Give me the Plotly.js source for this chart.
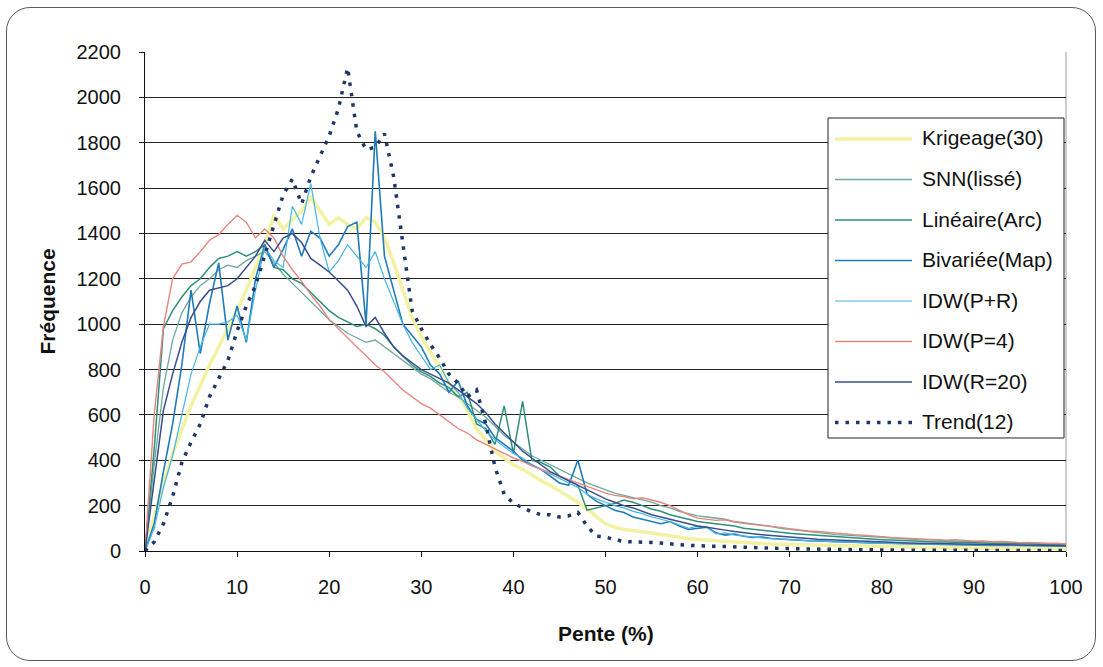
<!DOCTYPE html>
<html>
<head>
<meta charset="utf-8">
<script src="https://cdn.plot.ly/plotly-3.0.1.min.js"></script>
<style>
  html, body { margin: 0; padding: 0; background: #ffffff; }
  #wrap { position: relative; width: 1103px; height: 667px; }
  #chart { width: 1103px; height: 667px; }
  #frame { position: absolute; left: 6px; top: 7px; width: 1088px; height: 652px;
           border: 1.5px solid #5a5a5a; border-radius: 24px; pointer-events: none; }
</style>
</head>
<body>
<div id="wrap"><div id="chart"></div><div id="frame"></div></div>
<script>
// Slope classes (%)
const pente = [0,1,2,3,4,5,6,7,8,9,10,11,12,13,14,15,16,17,18,19,20,21,22,23,24,25,26,27,28,29,30,
  31,32,33,34,35,36,37,38,39,40,41,42,43,44,45,46,47,48,49,50,51,52,53,54,55,56,57,58,59,60,
  61,62,63,64,65,66,67,68,69,70,71,72,73,74,75,76,77,78,79,80,81,82,83,84,85,86,87,88,89,90,
  91,92,93,94,95,96,97,98,99,100];

// Frequencies per interpolation method
const krigeage = [0,150,300,430,540,640,730,820,900,980,1060,1150,1250,1350,1480,1420,1460,1500,1560,1500,1440,
  1470,1440,1420,1470,1450,1380,1270,1150,1030,945,880,810,740,690,620,540,490,440,410,380,
  360,335,310,290,265,240,215,185,150,120,105,95,90,85,80,75,70,62,55,50,
  48,45,44,40,38,35,34,31,30,29,28,26,25,24,22,22,20,20,19,18,
  18,17,16,16,15,15,14,14,13,13,12,12,12,11,11,10,10,10,9,9];

const snn = [0,380,720,930,1050,1120,1170,1200,1240,1260,1250,1280,1300,1320,1270,1220,1180,1140,1100,1060,1020,
  990,960,940,920,930,900,870,840,810,780,760,730,700,680,650,620,590,550,510,480,
  450,420,400,380,360,340,320,300,285,270,255,245,235,225,215,200,190,175,165,155,
  150,145,140,130,125,120,115,108,100,95,90,85,80,76,72,70,68,65,62,60,
  58,55,53,50,50,48,46,45,44,42,40,40,38,37,36,35,34,33,32,30];

const lineaire = [0,450,980,1060,1120,1170,1200,1250,1290,1300,1320,1300,1320,1350,1250,1240,1200,1180,1140,1100,1060,
  1030,1010,990,1000,980,950,900,860,820,790,770,740,720,680,700,560,540,470,640,430,
  660,400,390,370,330,310,290,180,190,200,210,225,215,200,185,175,160,150,140,130,
  125,120,115,110,100,95,90,85,80,78,75,72,70,66,62,60,58,55,52,50,
  48,46,45,44,42,40,40,38,37,36,35,34,33,32,31,30,30,29,28,28];

const bivariee = [0,120,350,560,820,1150,870,1090,1270,930,1080,920,1200,1350,1250,1330,1420,1300,1410,1380,1300,
  1350,1430,1450,1000,1850,1300,1150,1000,950,900,820,780,700,750,640,580,560,500,470,440,
  400,380,360,330,300,290,400,250,220,200,180,170,150,140,130,120,130,110,95,100,
  105,80,70,75,65,60,62,55,52,50,48,45,44,42,40,38,38,36,35,34,
  33,32,31,30,30,29,28,28,27,26,26,25,25,24,24,23,23,22,22,21];

const idwPR = [0,100,280,420,600,780,900,1000,1000,1010,1040,930,1150,1340,1280,1250,1520,1440,1620,1380,1230,
  1280,1350,1300,1250,1320,1200,1100,1000,920,860,800,820,740,700,630,580,530,490,460,430,
  410,380,360,340,320,300,280,250,230,215,200,190,175,165,150,140,130,115,100,110,
  105,75,80,70,65,62,58,55,52,50,48,46,45,42,40,40,38,36,35,34,
  34,32,32,31,30,30,29,28,28,27,27,26,26,25,25,24,24,23,23,22];

const idwP4 = [0,600,990,1200,1265,1275,1320,1370,1395,1440,1480,1450,1380,1420,1380,1300,1240,1190,1130,1080,1020,
  980,940,900,860,820,790,750,710,680,650,630,600,570,540,520,490,470,450,430,410,
  395,375,360,345,330,315,300,285,270,255,245,240,230,235,225,215,200,180,160,145,
  140,135,138,128,122,118,112,110,104,98,92,88,86,82,78,74,72,70,66,63,
  60,58,56,55,52,50,48,50,46,43,44,41,42,39,37,38,35,33,34,31];

const idwR20 = [0,300,620,780,920,1030,1100,1150,1160,1170,1200,1250,1300,1370,1320,1380,1400,1360,1290,1260,1230,
  1190,1150,1080,990,1030,960,900,860,830,800,780,760,740,710,680,650,610,560,520,480,
  440,410,380,350,330,310,290,270,250,230,215,200,190,175,160,150,140,130,120,110,
  105,100,92,86,80,76,72,68,64,60,58,55,52,50,48,46,44,42,40,39,
  38,36,35,34,33,32,31,30,30,29,28,28,27,26,26,25,25,24,24,23];

const trend12 = [0,40,120,240,390,480,560,680,760,840,970,1080,1170,1300,1440,1570,1640,1530,1650,1740,1830,
  1950,2130,1850,1770,1780,1840,1650,1350,1060,980,910,850,780,740,680,710,560,370,250,210,
  190,172,160,160,150,155,170,110,65,62,50,42,40,40,38,35,30,28,25,24,
  23,22,20,20,18,16,14,12,11,10,9,8,8,7,6,6,5,5,5,4,
  4,4,4,3,3,3,3,3,3,3,2,2,2,2,2,2,2,2,2,2];

const seriesNames = ['Krigeage(30)','SNN(lissé)','Linéaire(Arc)','Bivariée(Map)','IDW(P+R)','IDW(P=4)','IDW(R=20)','Trend(12)'];
const seriesData  = [krigeage, snn, lineaire, bivariee, idwPR, idwP4, idwR20, trend12];
const xTicks = [0,10,20,30,40,50,60,70,80,90,100];
const yTicks = [0,200,400,600,800,1000,1200,1400,1600,1800,2000,2200];

const lineStyles = [
  {color:'#f3f1a2', width:3.5},
  {color:'#6ea99b', width:1.3},
  {color:'#2f8f78', width:1.5},
  {color:'#1f7cb8', width:1.6},
  {color:'#46b4e4', width:1.2},
  {color:'#e4867f', width:1.4},
  {color:'#3a4d8e', width:1.5},
  {color:'#1f3768', width:3.5, dash:'3.5px,7px'}
];

const FONT = '"Liberation Sans", Arial, sans-serif';

const traces = seriesData.map((vals, i) => ({
  type: 'scatter', mode: 'lines', name: seriesNames[i],
  x: pente, y: vals, line: lineStyles[i], showlegend: false, hoverinfo: 'skip'
}));

// plot area in pixels
const L = 145, R = 37, T = 52, B = 116, W = 1103, H = 667;
const pw = W - L - R, ph = H - T - B;
const px = v => (v - L) / pw;
const py = v => (H - B - v) / ph;

const shapes = [
  // right border of the plot area
  {type:'line', xref:'paper', yref:'paper', x0:1, x1:1, y0:0, y1:1, line:{color:'#9a9a9a', width:1}, layer:'below'},
  // legend box
  {type:'rect', xref:'paper', yref:'paper', x0:px(828), x1:px(1064), y0:py(438), y1:py(118),
   fillcolor:'#ffffff', line:{color:'#222222', width:1}, layer:'above'}
];
const annotations = [
  {xref:'paper', yref:'paper', x:px(47), y:0.5, text:'<b>Fréquence</b>', textangle:-90, showarrow:false,
   font:{family:FONT, size:21, color:'#111'}, xanchor:'center', yanchor:'middle'},
  {xref:'paper', yref:'paper', x:0.5, y:py(633), text:'<b>Pente (%)</b>', showarrow:false,
   font:{family:FONT, size:21, color:'#111'}, xanchor:'center', yanchor:'middle'}
];
seriesNames.forEach((name, i) => {
  const yy = 138 + 40.5 * i;
  const st = lineStyles[i];
  shapes.push({type:'line', xref:'paper', yref:'paper', x0:px(835), x1:px(912), y0:py(yy + 1), y1:py(yy + 1),
    line:{color: st.color, width: st.width, dash: st.dash || 'solid'}, layer:'above'});
  annotations.push({xref:'paper', yref:'paper', x:px(920), y:py(yy), text:name, showarrow:false,
    xanchor:'left', yanchor:'middle', font:{family:FONT, size:21, color:'#111'}});
});

const layout = {
  width: W, height: H,
  margin: {l:L, r:R, t:T, b:B, pad:0},
  paper_bgcolor:'#ffffff', plot_bgcolor:'#ffffff',
  showlegend: false,
  xaxis: {
    range:[0,100], tickmode:'array', tickvals:xTicks, ticktext:xTicks.map(String),
    ticks:'outside', ticklen:5, tickcolor:'#111', tickwidth:1,
    showline:true, linecolor:'#111', linewidth:1, showgrid:false, zeroline:false,
    tickfont:{family:FONT, size:20, color:'#111'}, ticklabelstandoff:13, fixedrange:true
  },
  yaxis: {
    range:[0,2200], tickmode:'array', tickvals:yTicks, ticktext:yTicks.map(String),
    ticks:'outside', ticklen:5, tickcolor:'#111', tickwidth:1,
    showline:true, linecolor:'#111', linewidth:1,
    showgrid:true, gridcolor:'#222222', gridwidth:1, zeroline:false,
    tickfont:{family:FONT, size:20, color:'#111'}, ticklabelstandoff:14, fixedrange:true
  },
  shapes: shapes,
  annotations: annotations
};

Plotly.newPlot('chart', traces, layout, {staticPlot:true, displayModeBar:false});
</script>
</body>
</html>
